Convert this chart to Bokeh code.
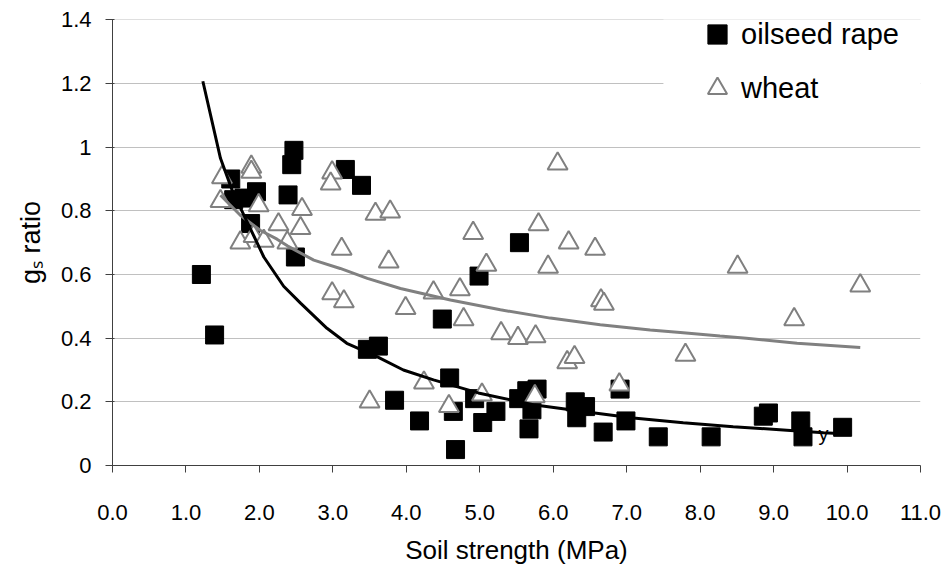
from bokeh.plotting import figure
from bokeh.models import (Range1d, FixedTicker, NumeralTickFormatter, Label,
                          Legend, LegendItem, BoxAnnotation)
from bokeh.embed import file_html
from bokeh.resources import INLINE

FONT = "Liberation Sans"

# ---------------- data ----------------
rape_x = [1.21, 1.39, 1.61, 1.65, 1.79, 1.88, 1.96, 2.39, 2.44, 2.47, 2.49,
          3.17, 3.39, 3.47, 3.62, 3.84, 4.18, 4.49, 4.59, 4.64, 4.67, 4.93,
          4.99, 5.04, 5.22, 5.54, 5.53, 5.64, 5.71, 5.78, 5.67, 6.30, 6.44,
          6.32, 6.68, 6.91, 6.99, 7.43, 8.15, 8.86, 8.93, 9.37, 9.40, 9.94]
rape_y = [0.60, 0.41, 0.90, 0.835, 0.84, 0.76, 0.86, 0.85, 0.945, 0.99, 0.655,
          0.93, 0.88, 0.365, 0.375, 0.205, 0.14, 0.46, 0.275, 0.17, 0.05, 0.21,
          0.595, 0.135, 0.17, 0.70, 0.21, 0.235, 0.175, 0.24, 0.115, 0.20, 0.185,
          0.15, 0.105, 0.24, 0.14, 0.09, 0.09, 0.155, 0.165, 0.14, 0.09, 0.12]

wheat_x = [1.49, 1.47, 1.89, 1.89, 1.99, 1.74, 1.92, 2.06, 2.26, 2.38, 2.56,
           2.58, 2.99, 2.97, 3.12, 2.99, 3.15, 3.50, 3.58, 3.78, 3.76, 3.99,
           4.24, 4.37, 4.58, 4.73, 4.78, 4.91, 5.03, 5.09, 5.29, 5.52, 5.76,
           5.75, 5.80, 5.93, 6.06, 6.19, 6.29, 6.21, 6.57, 6.65, 6.69, 6.90,
           7.80, 8.51, 9.28, 10.18]
wheat_y = [0.905, 0.83, 0.938, 0.922, 0.817, 0.70, 0.72, 0.705, 0.757, 0.70, 0.745,
           0.805, 0.92, 0.885, 0.68, 0.54, 0.515, 0.20, 0.79, 0.797, 0.64, 0.494,
           0.26, 0.543, 0.186, 0.553, 0.459, 0.73, 0.222, 0.63, 0.415, 0.40, 0.405,
           0.217, 0.757, 0.624, 0.948, 0.324, 0.34, 0.70, 0.68, 0.518, 0.507, 0.254,
           0.347, 0.624, 0.459, 0.565]

rape_fit_x = [1.23, 1.47, 1.63, 1.79, 2.06, 2.33, 2.56, 2.92, 3.19, 3.60, 3.96,
              4.37, 4.98, 5.73, 6.46, 7.09, 7.77, 8.45, 9.18, 9.68, 9.95]
rape_fit_y = [1.207, 0.965, 0.864, 0.786, 0.655, 0.563, 0.51, 0.431, 0.384, 0.342, 0.30,
              0.269, 0.228, 0.191, 0.168, 0.149, 0.134, 0.122, 0.111, 0.103, 0.10]

wheat_fit_x = [1.47, 1.74, 2.01, 2.24, 2.38, 2.74, 3.10, 3.47, 3.92, 4.60, 5.28,
               5.96, 6.64, 7.32, 7.73, 8.27, 8.63, 9.32, 10.18]
wheat_fit_y = [0.849, 0.786, 0.739, 0.711, 0.69, 0.645, 0.619, 0.588, 0.556, 0.52, 0.489,
               0.463, 0.442, 0.426, 0.418, 0.407, 0.40, 0.384, 0.371]

x_ticks = [0, 1, 2, 3, 4, 5, 6, 7, 8, 9, 10, 11]
y_ticks = [0, 0.2, 0.4, 0.6, 0.8, 1.0, 1.2, 1.4]

series_names = ["oilseed rape", "wheat"]
x_title = "Soil strength (MPa)"
y_title = "g\u209b ratio"

# ---------------- figure ----------------
W, H = 946, 567
p = figure(width=W, height=H, output_backend="svg", toolbar_location=None,
           x_range=Range1d(0, 11), y_range=Range1d(0, 1.401),
           min_border_left=112, min_border_right=26, min_border_top=19,
           min_border_bottom=101, outline_line_color=None,
           background_fill_color="white", border_fill_color="white")

p.xgrid.visible = False
p.ygrid.ticker = FixedTicker(ticks=y_ticks)
p.ygrid.grid_line_color = "#c0c0c0"
p.ygrid.grid_line_width = 1

for ax in (p.xaxis[0], p.yaxis[0]):
    ax.axis_line_color = "#404040"
    ax.axis_line_width = 1
    ax.major_tick_line_color = "#404040"
    ax.minor_tick_line_color = None
    ax.major_label_text_font = FONT
    ax.major_label_text_font_size = "22px"
    ax.major_label_text_color = "black"
    ax.axis_label_text_font = FONT
    ax.axis_label_text_font_style = "normal"
    ax.axis_label_text_color = "black"

p.xaxis.ticker = FixedTicker(ticks=x_ticks)
p.xaxis.formatter = NumeralTickFormatter(format="0.0")
p.xaxis.major_tick_out = 7
p.xaxis.major_tick_in = 0
p.xaxis.major_label_standoff = 32
p.xaxis.axis_label = x_title
p.xaxis.axis_label_text_font_size = "26px"
p.xaxis.axis_label_standoff = 12

p.yaxis.ticker = FixedTicker(ticks=y_ticks)
p.yaxis.formatter = NumeralTickFormatter(format="0.[0]")
p.yaxis.major_tick_out = 7
p.yaxis.major_tick_in = 2
p.yaxis.major_label_standoff = 14
p.yaxis.axis_label = y_title
p.yaxis.axis_label_text_font_size = "27px"
p.yaxis.axis_label_standoff = 12

# ---------------- glyphs ----------------
sq = p.scatter(rape_x, rape_y, marker="square", size=18,
               fill_color="black", line_color="black")
tri = p.scatter(wheat_x, wheat_y, marker="triangle", size=20,
                fill_color="white", line_color="#808080", line_width=2)
p.line(wheat_fit_x, wheat_fit_y, line_color="#808080", line_width=3)
p.line(rape_fit_x, rape_fit_y, line_color="black", line_width=3)

# truncated trendline label
p.add_layout(Label(x=9.68, y=0.1, text="y", text_font=FONT,
                   text_font_size="20px", text_color="black",
                   text_align="center", text_baseline="middle"))

# white legend background covering gridlines
p.add_layout(BoxAnnotation(left=7.5, bottom=1.1, top=1.5, fill_color="white",
                           fill_alpha=1.0, line_color=None))

legend = Legend(items=[LegendItem(label=series_names[0], renderers=[sq]),
                       LegendItem(label=series_names[1], renderers=[tri])],
                location=(581, 353), orientation="vertical",
                glyph_width=48, glyph_height=48, label_height=48,
                spacing=6, padding=0, margin=0, label_standoff=0,
                label_text_font=FONT, label_text_font_size="29px",
                label_text_color="black", background_fill_alpha=0,
                border_line_color=None)
p.add_layout(legend)

open("out.html", "w").write(file_html(p, INLINE))
